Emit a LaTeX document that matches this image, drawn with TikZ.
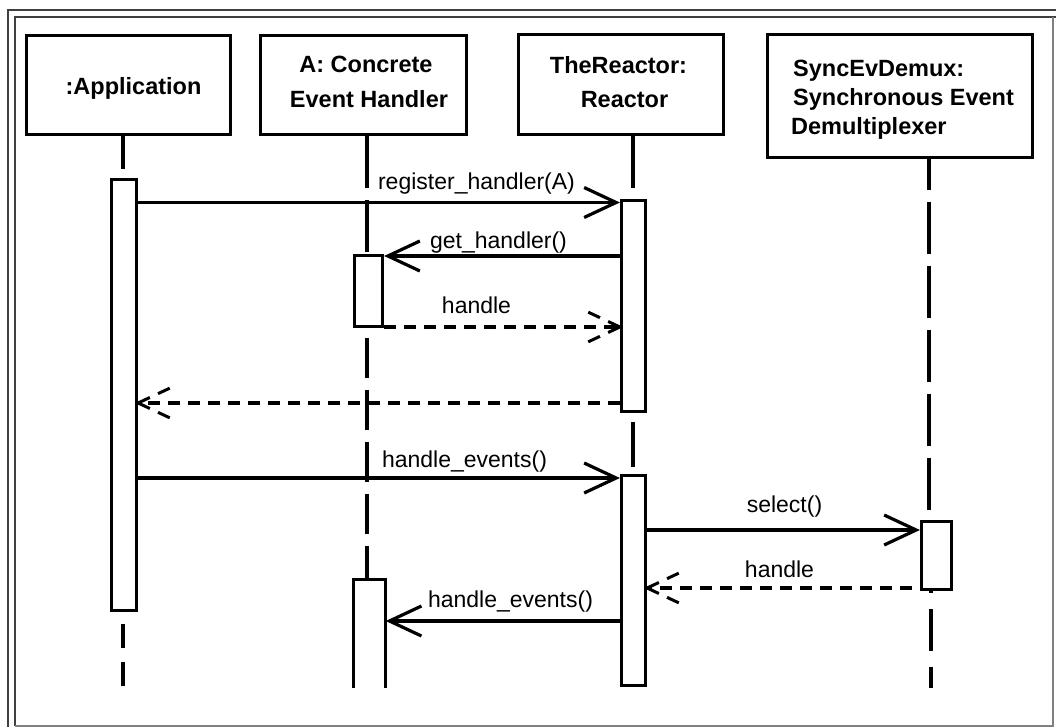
\documentclass[tikz,border=0pt]{standalone}
\usepackage{fontspec}
\setmainfont{Liberation Sans}
\usetikzlibrary{arrows.meta,decorations.markings}
\begin{document}
\begin{tikzpicture}[x=1pt,y=-1pt,
  box/.style={draw, line width=3.2pt, inner sep=0pt},
  boxtext/.style={font=\bfseries\fontsize{23.5}{29}\selectfont, inner sep=0pt, anchor=base},
  act/.style={draw, line width=3.2pt, fill=white, inner sep=0pt},
  lifeline/.style={line width=3.2pt, dash pattern=on 52pt off 12pt},
  call/.style={line width=3.2pt, -{Straight Barb[length=32pt,width=30pt]}},
  reply/.style={line width=3.2pt, dash pattern=on 12pt off 8pt,
    postaction={decorate},
    decoration={markings, mark=at position 1 with {
      \draw[line width=3pt, dash pattern=on 13pt off 9pt, dash phase=0pt, line cap=butt]
        (0pt,0pt) -- (-32pt,15pt) (0pt,0pt) -- (-32pt,-15pt);}}},
  msglabel/.style={font=\fontsize{23}{28}\selectfont, anchor=base, inner sep=0pt},
  frameline/.style={line width=1.3pt, black!75},
]
\useasboundingbox (0,0) rectangle (1056,727);

% double frame
\draw[frameline] (8,727) -- (8,10) -- (1056,10);
\draw[frameline] (15,726) -- (15,17) -- (1056,17);
\draw[line width=1.3pt, black!50] (1053,17) -- (1053,726) -- (15,726);

% object boxes
\node[box, minimum width=204pt, minimum height=99pt] (app) at (128.5,85) {};
\node[box, minimum width=206pt, minimum height=99pt] (ceh) at (363.5,85) {};
\node[box, minimum width=205pt, minimum height=100pt] (reactor) at (621,84.5) {};
\node[box, minimum width=265pt, minimum height=123pt] (demux) at (900,96) {};

% object names
\node[boxtext] (appName) at (133.5,95) {:Application};
\node[boxtext] (cehName1) at (366,73) {A: Concrete};
\node[boxtext] (cehName2) at (369,107.5) {Event Handler};
\node[boxtext] (reName1) at (618.5,73.5) {TheReactor:};
\node[boxtext] (reName2) at (624.5,107.5) {Reactor};
\node[boxtext, anchor=base west] (dxName1) at (793,77) {SyncEvDemux:};
\node[boxtext, anchor=base west] (dxName2) at (793,106) {Synchronous Event};
\node[boxtext, anchor=base west] (dxName3) at (791,135) {Demultiplexer};

% lifeline ends
\coordinate (appLife) at (123,688);
\coordinate (cehLife) at (367,688);
\coordinate (reLife) at (633,688);
\coordinate (dxLife) at (929,688);
\coordinate (dxLifeLow) at (931,688);

% activation bars
\node[act, minimum width=25pt, minimum height=431pt] (appAct) at (124,395) {};
\node[act, minimum width=28pt, minimum height=71pt] (cehAct) at (368.5,291) {};
\node[inner sep=0pt, minimum width=32pt, minimum height=108.5pt] (cehAct2) at (369.5,633.75) {};
\node[act, minimum width=24pt, minimum height=211pt] (reAct) at (633.5,306) {};
\node[act, minimum width=24pt, minimum height=210pt] (reAct2) at (633.5,580.5) {};
\node[act, minimum width=30pt, minimum height=68pt] (demuxAct) at (936.5,555.5) {};
\draw[line width=3.2pt] (cehAct2.south west) -- (cehAct2.north west) -- (cehAct2.north east) -- (cehAct2.south east);

% lifelines
\draw[lifeline, dash pattern=on 33pt off 12pt] (app.south -| appLife) -- (appAct.north -| appLife);
\draw[lifeline, dash pattern=on 24pt off 14pt, dash phase=26.5pt] (appAct.south -| appLife) -- (appLife);
\draw[lifeline] (ceh.south -| cehLife) -- (cehAct.north -| cehLife);
\draw[lifeline, dash pattern=on 40pt off 12pt, dash phase=42pt] (cehAct.south -| cehLife) -- (cehAct2.north -| cehLife);
\draw[lifeline] (reactor.south -| reLife) -- (reAct.north -| reLife);
\draw[lifeline, dash pattern=on 45pt off 10pt, dash phase=46.5pt] (reAct.south -| reLife) -- (reAct2.north -| reLife);
\draw[lifeline, dash phase=21.5pt] (demux.south -| dxLife) -- (demuxAct.north -| dxLife);
\draw[lifeline, dash pattern=on 42pt off 16pt, dash phase=40pt] (demuxAct.south -| dxLifeLow) -- (dxLifeLow);

% message heights
\coordinate (m1) at (0,202.5);
\coordinate (m2) at (0,256);
\coordinate (m3) at (0,327);
\coordinate (m4) at (0,403);
\coordinate (m5) at (0,478);
\coordinate (m6) at (0,530);
\coordinate (m7) at (0,588);
\coordinate (m8) at (0,621);

% messages
\draw[call] (appAct.east |- m1) -- (reAct.west |- m1);
\node[msglabel] (l1) at (476.5,190) {register\_handler(A)};
\draw[call] (reAct.west |- m2) -- (cehAct.east |- m2);
\node[msglabel] (l2) at (498.5,248) {get\_handler()};
\draw[reply] (cehAct.east |- m3) -- (reAct.west |- m3);
\node[msglabel] (l3) at (476.5,313) {handle};
\draw[reply] (reAct.west |- m4) -- (appAct.east |- m4);
\draw[call] (appAct.east |- m5) -- (reAct2.west |- m5);
\node[msglabel] (l5) at (464.5,467) {handle\_events()};
\draw[call] (reAct2.east |- m6) -- (demuxAct.west |- m6);
\node[msglabel] (l6) at (784.5,512) {select()};
\draw[reply, dash phase=12pt] (demuxAct.west |- m7) -- (reAct2.east |- m7);
\node[msglabel] (l7) at (779.5,577) {handle};
\draw[call] (reAct2.west |- m8) -- (cehAct2.east |- m8);
\node[msglabel] (l8) at (510.5,607) {handle\_events()};
\end{tikzpicture}
\end{document}
